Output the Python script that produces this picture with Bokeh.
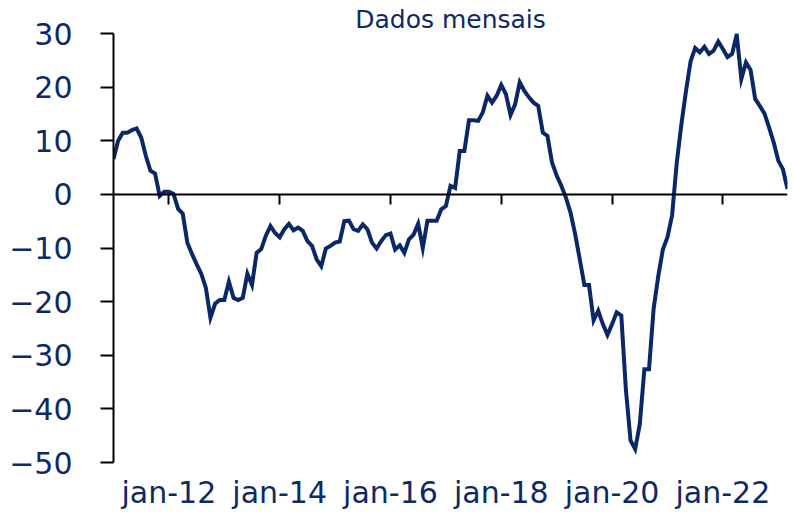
import pandas as pd
from bokeh.plotting import figure
from bokeh.models import Range1d, LinearAxis, FixedTicker, CustomJSTickFormatter, Title
from bokeh.embed import file_html
from bokeh.resources import INLINE

# ---- data ----
start_month = "2011-01"
values = [
    6.6, 10.0, 11.5, 11.5, 12.0, 12.3, 10.6, 7.2, 4.4, 3.9, -0.3, 0.5,
    0.5, 0.1, -2.7, -3.6, -9.0, -11.1, -13.0, -14.8, -17.4, -23.0, -20.4, -19.7,
    -19.7, -16.3, -19.3, -19.7, -19.3, -14.8, -16.9, -10.9, -10.2, -7.7, -5.9, -7.2,
    -8.0, -6.5, -5.5, -6.7, -6.2, -6.8, -8.7, -9.6, -12.1, -13.4, -10.1, -9.6,
    -9.0, -8.8, -5.0, -4.9, -6.5, -6.8, -5.6, -6.5, -9.0, -10.1, -8.7, -7.6,
    -7.3, -10.3, -9.5, -10.9, -8.4, -7.5, -5.5, -10.0, -4.9, -4.9, -4.9, -2.8,
    -2.2, 1.6, 1.2, 8.1, 8.1, 13.8, 13.8, 13.7, 15.3, 18.4, 17.1, 18.4,
    20.4, 18.7, 14.8, 16.8, 20.9, 19.3, 18.1, 17.1, 16.5, 11.5, 10.9, 5.9,
    3.5, 1.6, -0.6, -3.4, -7.4, -12.1, -16.9, -16.9, -23.5, -21.7, -24.2, -26.2,
    -24.2, -22.0, -22.6, -36.5, -45.9, -47.5, -42.9, -32.6, -32.6, -21.3, -15.3, -10.3,
    -8.0, -3.9, 5.8, 13.0, 19.2, 24.8, 27.3, 26.5, 27.5, 26.2, 26.8, 28.5,
    27.1, 25.6, 26.2, 29.8, 21.5, 24.6, 23.2, 17.8, 16.5, 15.1, 12.5, 9.7,
    6.3, 4.7, 1.0,
]
x_tick_years = [2012, 2014, 2016, 2018, 2020, 2022]
x_tick_labels = ["jan-12", "jan-14", "jan-16", "jan-18", "jan-20", "jan-22"]
y_ticks = [-50, -40, -30, -20, -10, 0, 10, 20, 30]
title_text = "Dados mensais"

dates = pd.date_range(start_month, periods=len(values), freq="MS")
x = list(dates.year + (dates.month - 1) / 12.0)

NAVY = "#0a2868"
TEXT = "#0d2a66"
FONT = "DejaVu Sans"
W, H = 792, 514

p = figure(width=W, height=H, output_backend="svg", toolbar_location=None,
           x_range=Range1d(x[0], x[-1]), y_range=Range1d(-50, 30),
           min_border_left=113, min_border_right=5, min_border_top=33,
           min_border_bottom=52, x_axis_location=None, y_axis_location=None)
p.outline_line_color = None
p.xgrid.visible = False
p.ygrid.visible = False
p.background_fill_color = "white"
p.border_fill_color = "white"

# y axis
ya = LinearAxis(ticker=FixedTicker(ticks=y_ticks))
ya.axis_line_color = "black"
ya.axis_line_width = 2
ya.major_tick_line_color = "black"
ya.major_tick_line_width = 2
ya.major_tick_out = 13
ya.major_tick_in = 0
ya.minor_tick_line_color = None
ya.major_label_standoff = 28
ya.major_label_text_font = FONT
ya.major_label_text_font_size = "30px"
ya.major_label_text_color = TEXT
p.add_layout(ya, "left")

# x axis labels at the bottom
xa = LinearAxis(ticker=FixedTicker(ticks=x_tick_years))
xa.major_label_overrides = {yr: lab for yr, lab in zip(x_tick_years, x_tick_labels)}
xa.axis_line_color = None
xa.major_tick_line_color = None
xa.minor_tick_line_color = None
xa.major_tick_out = 0
xa.major_tick_in = 0
xa.major_label_standoff = 12
xa.major_label_text_font = FONT
xa.major_label_text_font_size = "30px"
xa.major_label_text_color = TEXT
p.add_layout(xa, "below")

# zero-line axis with ticks
za = LinearAxis(ticker=FixedTicker(ticks=x_tick_years), fixed_location=0,
                formatter=CustomJSTickFormatter(code="return ''"))
za.axis_line_color = "black"
za.axis_line_width = 2
za.major_tick_line_color = "black"
za.major_tick_line_width = 2
za.major_tick_out = 0
za.major_tick_in = 10
za.minor_tick_line_color = None
za.major_label_standoff = 0
p.add_layout(za, "above")

p.line(x, values, line_color=NAVY, line_width=4, line_join="miter")

# title in the top border
title = Title(text=title_text, align="center", text_font=FONT,
              text_font_size="25px", text_font_style="normal",
              text_color=TEXT, standoff=0, offset=-3)
p.add_layout(title, "above")

open("out.html", "w").write(file_html(p, INLINE))
